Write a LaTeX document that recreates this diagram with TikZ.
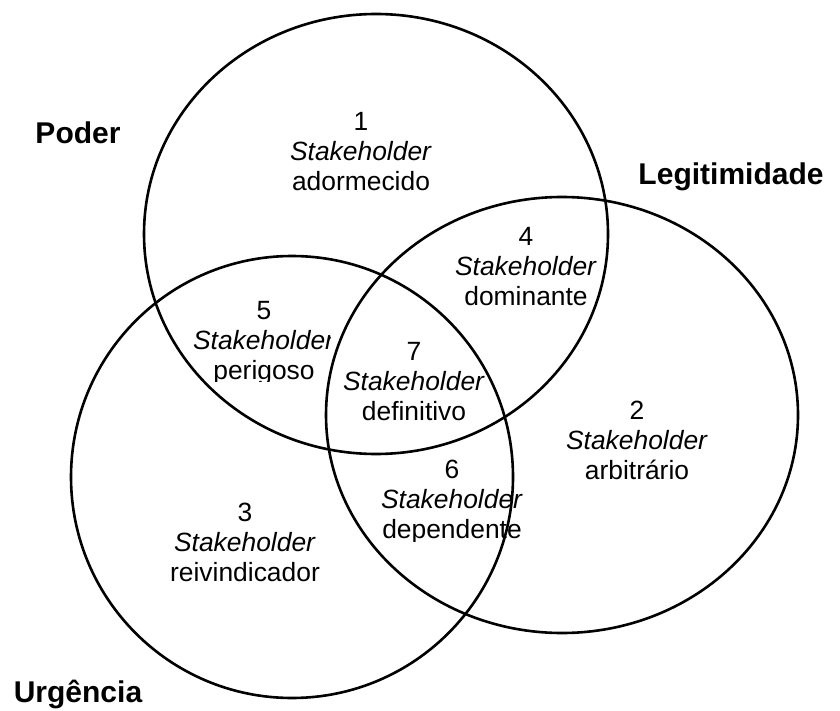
\documentclass[tikz,border=0pt]{standalone}
\usepackage{fontspec}
\setmainfont{Liberation Sans}
\usetikzlibrary{shapes.geometric}
\begin{document}
\begin{tikzpicture}[x=1pt,y=-1pt,
  setring/.style={draw=black, line width=2.6pt, ellipse, inner sep=0pt},
  region/.style={align=center, inner sep=0pt,
    font=\fontsize{26.4}{30}\selectfont},
  setname/.style={font=\fontsize{30}{34}\selectfont\bfseries, inner sep=0pt}]
\useasboundingbox[fill=white] (0,0) rectangle (840,711);

% the three sets
\node[setring, minimum width=464pt, minimum height=440pt] (poder) at (376,234) {};
\node[setring, minimum width=472pt, minimum height=436pt] (legit) at (562,415) {};
\node[setring, minimum width=442pt, minimum height=442pt] (urg) at (292,477) {};

% set names
\node[setname] (lpoder) at (78,133) {Poder};
\node[setname] (llegit) at (731,177) {Legitimidade};
\node[setname] (lurg) at (78,694) {Urgência};

% stakeholder classes
\node[region] (r1) at (361,152) {1\\\textit{Stakeholder}\\adormecido};
\node[region] (r2) at (637,440) {2\\\textit{Stakeholder}\\arbitrário};
\node[region] (r3) at (245,542) {3\\\textit{Stakeholder}\\reivindicador};
\node[region] (r4) at (526,267) {4\\\textit{Stakeholder}\\dominante};
\begin{scope}
  \clip (150,290) rectangle (330,381);
  \node[region] (r5) at (264,343) {5\\\textit{Stakeholder}\\perigoso};
\end{scope}
\begin{scope}
  \clip (360,450) rectangle (540,541);
  \node[region] (r6) at (452,502) {6\\\textit{Stakeholder}\\dependente};
\end{scope}
\node[region] (r7) at (414,382) {7\\\textit{Stakeholder}\\definitivo};
\end{tikzpicture}
\end{document}
